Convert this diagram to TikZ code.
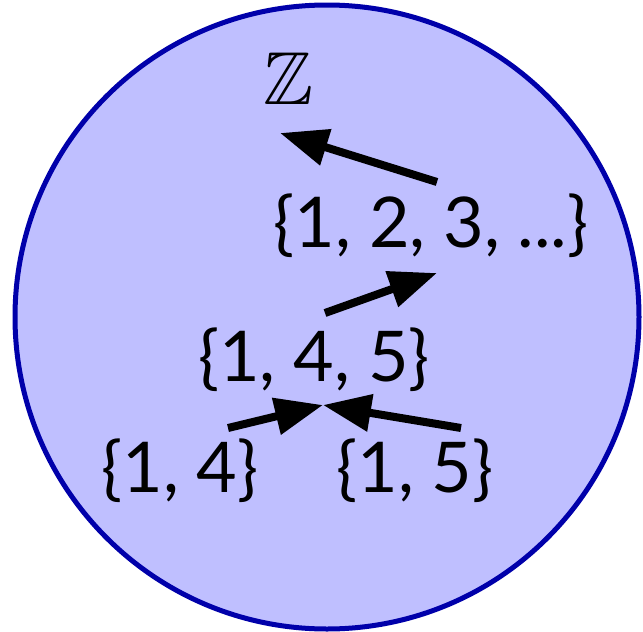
\documentclass[tikz,border=0pt]{standalone}
\usepackage{amssymb}
\usepackage{fontspec}
\setsansfont{Lato}
\usetikzlibrary{arrows.meta}
\definecolor{discfill}{RGB}{191,191,255}
\definecolor{discline}{RGB}{0,0,170}
\begin{document}
\begin{tikzpicture}[x=1pt,y=-1pt,
  lbl/.style={font=\sffamily\fontsize{70}{84}\selectfont, inner sep=0pt, anchor=base},
  arr/.style={line width=8pt, -{Triangle[length=48pt,width=36pt]}},
  disc/.style={fill=discfill, draw=discline, line width=5pt}]
\useasboundingbox (0,0) rectangle (643,632);
\draw[disc] (327,317) circle[radius=312];
\node[lbl, font=\fontsize{75}{90}\selectfont] (Z) at (288,104) {$\mathbb{Z}$};
\node[lbl] (n123) at (431,247) {\{1, 2, 3, ...\}};
\node[lbl] (n145) at (314,381) {\{1, 4, 5\}};
\node[lbl] (n14) at (180,492) {\{1, 4\}};
\node[lbl] (n15) at (415,492) {\{1, 5\}};
\coordinate (a1s) at (437,182);
\coordinate (a1e) at (280,133);
\coordinate (a2s) at (325,313);
\coordinate (a2e) at (437,273);
\coordinate (a3s) at (228,428);
\coordinate (a4s) at (461,428);
\coordinate (meet) at (323,405);
\draw[arr] (a1s) -- (a1e);
\draw[arr] (a2s) -- (a2e);
\draw[arr] (a3s) -- (meet);
\draw[arr] (a4s) -- (meet);
\end{tikzpicture}
\end{document}
